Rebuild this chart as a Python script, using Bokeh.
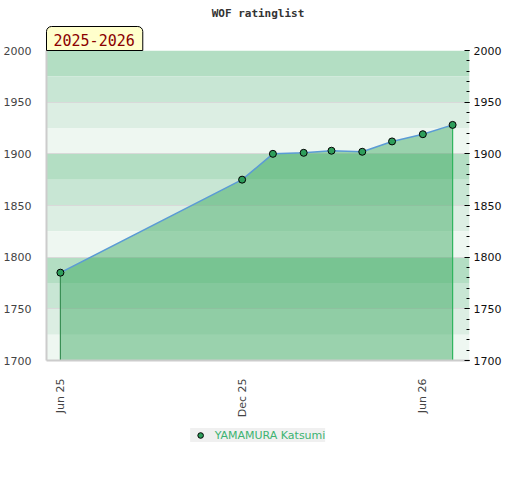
import math
import pandas as pd
from bokeh.plotting import figure
from bokeh.layouts import column
from bokeh.models import (LinearAxis, SingleIntervalTicker, FixedTicker, Range1d,
                          BoxAnnotation, Title, Legend)
from bokeh.embed import file_html
from bokeh.resources import INLINE

# ---- data ----
dates = ["2025-06-01", "2025-12-01", "2026-01-01", "2026-02-01", "2026-03-01",
         "2026-04-01", "2026-05-01", "2026-06-01", "2026-07-01"]
ratings = [1785, 1875, 1900, 1901, 1903, 1902, 1912, 1919, 1928]
player = "YAMAMURA Katsumi"
title_text = "WOF ratinglist"
season_text = "2025-2026"
tick_dates = ["2025-06-01", "2025-12-01", "2026-06-01"]
tick_labels = ["Jun 25", "Dec 25", "Jun 26"]
y_min, y_max = 1700, 2000
x_min, x_max = "2025-05-18", "2026-07-18"

xs = pd.to_datetime(dates)
tick_ms = [pd.Timestamp(d).value // 10**6 for d in tick_dates]

main_title = Title(text=title_text, align="center", text_font="DejaVu Sans Mono",
                   text_font_style="bold", text_font_size="11px", text_color="#333333",
                   standoff=9)

p = figure(width=504, height=420, output_backend="svg", toolbar_location=None,
           x_axis_type="datetime", y_axis_location=None, title=main_title,
           x_range=Range1d(pd.Timestamp(x_min), pd.Timestamp(x_max)),
           y_range=Range1d(y_min, y_max),
           min_border_left=45, min_border_right=27, min_border_top=50, min_border_bottom=40)
p.background_fill_color = "white"
p.outline_line_color = None
p.xgrid.grid_line_color = None

season = Title(text=season_text, align="left", text_font="DejaVu Sans Mono",
               text_font_size="15px", text_font_style="normal", text_color="#8b0000",
               background_fill_color="#ffffcc", background_fill_alpha=1,
               border_line_color="black", border_line_width=1, standoff=0,
               padding={"left": 7, "right": 8, "top": 7, "bottom": 5},
               border_radius={"top_left": 5, "top_right": 5, "bottom_right": 0, "bottom_left": 0})
p.add_layout(season, "above")

# background bands (4 shades repeating every 100)
shades = {0: "#b3dec3", 75: "#c8e6d4", 50: "#dceee3", 25: "#eef7f1"}
for top in range(y_max, y_min, -25):
    p.add_layout(BoxAnnotation(bottom=top - 25, top=top, fill_color=shades[top % 100],
                               fill_alpha=1, line_color=None, level="image"))

yticker = SingleIntervalTicker(interval=50, num_minor_ticks=5)
left = LinearAxis(ticker=yticker, axis_line_color="#cccccc", axis_line_width=2,
                  major_tick_line_color=None, minor_tick_line_color=None,
                  major_label_text_color="#444444", major_label_text_font_size="11px",
                  major_label_text_font="DejaVu Sans", major_label_standoff=9)
p.add_layout(left, "left")
right = LinearAxis(ticker=yticker, axis_line_color=None,
                   major_tick_in=5, major_tick_out=0, minor_tick_in=3, minor_tick_out=0,
                   major_tick_line_color="black", minor_tick_line_color="black",
                   major_label_text_color="#111111", major_label_text_font_size="11px",
                   major_label_text_font="DejaVu Sans", major_label_standoff=4)
p.add_layout(right, "right")
p.ygrid.ticker = yticker
p.ygrid.grid_line_color = "#d9d9d9"
p.ygrid.level = "underlay"

xa = p.xaxis[0]
xa.ticker = FixedTicker(ticks=tick_ms)
xa.major_label_overrides = dict(zip(tick_ms, tick_labels))
xa.major_label_orientation = math.pi / 2
xa.major_tick_line_color = None
xa.minor_tick_line_color = None
xa.axis_line_color = "#cccccc"
xa.axis_line_width = 2
xa.major_label_text_color = "#444444"
xa.major_label_text_font_size = "11px"
xa.major_label_text_font = "DejaVu Sans"
xa.major_label_standoff = 12

# area, drop lines, line, markers
p.varea(x=xs, y1=y_min, y2=ratings, fill_color="#269f4f", fill_alpha=0.42)
p.segment(x0=[xs[0], xs[-1]], y0=[y_min, y_min], x1=[xs[0], xs[-1]],
          y1=[ratings[0], ratings[-1]], line_color=["#3a8f55", "#2db55d"], line_width=1.2)
p.line(xs, ratings, line_color="#5b9bd5", line_width=1.5)
marker_style = dict(size=7, fill_color="#2e9e5b", line_color="black", line_width=1)
p.scatter(xs, ratings, **marker_style)

# legend strip below the chart (its scatter point lies outside this strip's ranges)
lf = figure(width=504, height=44, output_backend="svg", toolbar_location=None,
            x_range=Range1d(0, 1), y_range=Range1d(0, 1),
            min_border=0, min_border_left=0, min_border_right=0,
            min_border_top=0, min_border_bottom=0)
lf.axis.visible = False
lf.grid.visible = False
lf.outline_line_color = None
leg_r = lf.scatter(x=xs[:1], y=ratings[:1], **marker_style)
legend = Legend(items=[(player, [leg_r])], orientation="horizontal", location="top_center",
                background_fill_color="#f0f0f0", background_fill_alpha=1,
                border_line_color=None, label_text_color="#3cb371",
                label_text_font="DejaVu Sans", label_text_font_size="11px",
                glyph_width=20, glyph_height=14, label_standoff=5, padding=4,
                margin=8, label_height=14)
lf.add_layout(legend)

layout = column(p, lf, spacing=0)
open("out.html", "w").write(file_html(layout, INLINE))
